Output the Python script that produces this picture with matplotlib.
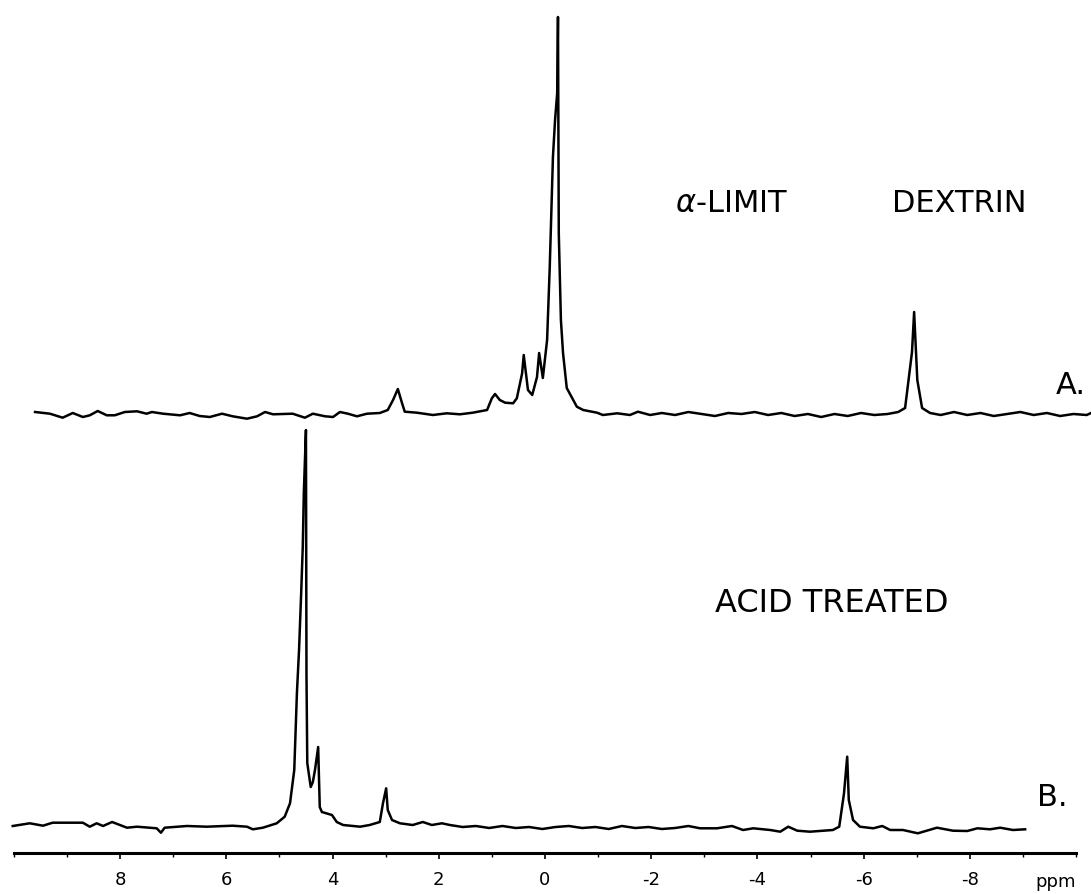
import matplotlib.pyplot as plt
from matplotlib.ticker import FixedLocator

# Spectrum A: alpha-limit dextrin (chemical shift in ppm, intensity in arbitrary units)
a_ppm = [9.60, 9.32, 9.08, 8.89, 8.70, 8.57, 8.42, 8.25, 8.10, 7.91, 7.68, 7.50, 7.40, 7.19,
         6.87, 6.69, 6.50, 6.31, 6.08, 5.88, 5.61, 5.42, 5.27, 5.12, 4.75, 4.52, 4.37, 4.14,
         3.99, 3.86, 3.71, 3.54, 3.35, 3.11, 2.96, 2.86, 2.77, 2.69, 2.64, 2.41, 2.11, 1.85,
         1.60, 1.36, 1.09, 1.00, 0.94, 0.85, 0.75, 0.60, 0.53, 0.43, 0.40, 0.32, 0.24, 0.15,
         0.11, 0.04, -0.04, -0.09, -0.15, -0.19, -0.23, -0.245, -0.26, -0.30, -0.34, -0.41,
         -0.60, -0.72, -0.98, -1.09, -1.36, -1.60, -1.75, -1.98, -2.2, -2.45, -2.7, -2.95,
         -3.2, -3.45, -3.7, -3.95, -4.2, -4.45, -4.7, -4.95, -5.2, -5.45, -5.7, -5.95, -6.2,
         -6.45, -6.65, -6.78, -6.91, -6.95, -7.01, -7.10, -7.25, -7.45, -7.7, -7.95, -8.2,
         -8.45, -8.7, -8.95, -9.2, -9.45, -9.7, -9.95, -10.2, -10.28]
a_int = [0, -1.7, -5.7, -1, -5, -3.3, 1, -3.3, -3.3, 0, 0.7, -1.7, 0, -1.7,
         -3.3, -1, -4, -5, -1.7, -4.3, -6.7, -4.3, 0, -2.3, -1.7, -5.7, -1.7, -4.3,
         -5, 0, -1.7, -4.3, -1.7, -1, 2, 12, 23, 8.7, 0.3, -0.7, -3, -1.3,
         -2.3, -0.7, 2, 13.7, 18, 12, 9.3, 8.7, 13.7, 38.7, 57, 22, 17, 35,
         59, 34, 72, 145, 255, 292, 319, 395, 179, 92, 59, 24,
         5.3, 2, -0.7, -3, -1.3, -3, 0.3, -3, -1, -3, 0, -2,
         -4, -1, -2, 0, -3, -1, -4, -2, -5, -2, -4, -1, -3,
         -2, 0, 4, 60, 100, 32, 4, -1, -3, 0, -3, -1,
         -4, -2, 0, -3, -1, -4, -2, -3, -1]

# Spectrum B: acid treated
b_ppm = [10.02, 9.70, 9.45, 9.27, 8.70, 8.57, 8.44, 8.32, 8.15, 7.87, 7.68, 7.31, 7.23, 7.16,
         6.74, 6.37, 5.88, 5.61, 5.50, 5.31, 5.05, 4.90, 4.80, 4.72, 4.67, 4.63, 4.59, 4.56,
         4.54, 4.50, 4.49, 4.475, 4.41, 4.37, 4.33, 4.27, 4.24, 4.20, 4.01, 3.92, 3.80, 3.48,
         3.30, 3.11, 3.05, 2.99, 2.96, 2.88, 2.73, 2.49, 2.30, 2.13, 1.94, 1.79, 1.55, 1.3,
         1.05, 0.8, 0.55, 0.3, 0.05, -0.2, -0.45, -0.7, -0.95, -1.2, -1.45, -1.7, -1.95,
         -2.2, -2.45, -2.7, -2.92, -3.24, -3.52, -3.73, -3.92, -4.24, -4.43, -4.58, -4.75,
         -4.99, -5.42, -5.54, -5.63, -5.69, -5.72, -5.80, -5.93, -6.18, -6.35, -6.50, -6.74,
         -7.02, -7.38, -7.68, -7.95, -8.14, -8.38, -8.57, -8.81, -9.04]
b_int = [-1, 1.7, -0.7, 2.3, 2.3, -1.7, 1.7, -1, 3, -2.7, -1.7, -3.3, -7.7, -2.7,
         -1, -1.7, -0.7, -1.7, -4.3, -2.7, 1.7, 8.3, 21.7, 55, 132, 175, 232, 278,
         332, 395, 150, 62, 38, 43, 55, 78, 18, 13, 10, 3, 0, -1.7,
         0, 3, 21.7, 36.7, 15, 5, 1.7, 0, 3, 0, 1.7, 0, -2, -1,
         -3, -1, -3, -2, -4, -2, -1, -3, -2, -4, -1, -3, -2,
         -4, -3, -1, -3.3, -3.3, -1, -5, -3.3, -5, -6.7, -1.7, -5.7,
         -6.7, -5, -1.7, 31.7, 68.3, 25, 5, -1.7, -3.3, -1, -5, -5,
         -8.3, -2.7, -5.7, -6, -3.3, -4.3, -2.7, -5, -4.3]

# axis ticks
major_ticks = [8, 6, 4, 2, 0, -2, -4, -6, -8]
minor_ticks = list(range(-10, 11))
tick_labels = ["8", "6", "4", "2", "0", "-2", "-4", "-6", "-8"]

# vertical stacking of the two traces
a_offset = 482
b_offset = 69

fig = plt.figure(figsize=(10.91, 8.94), dpi=100)
ax = fig.add_axes([0, 0, 1, 1])

ax.plot(a_ppm, [v + a_offset for v in a_int], color='black', lw=1.8)
ax.plot(b_ppm, [v + b_offset for v in b_int], color='black', lw=1.8)

ax.set_xlim(10.26, -10.28)
ax.set_ylim(0, 894)

# ppm axis drawn low in the frame
for s in ['top', 'left', 'right']:
    ax.spines[s].set_visible(False)
ax.spines['bottom'].set_position(('data', 41))
ax.spines['bottom'].set_bounds(10.0, -10.0)
ax.spines['bottom'].set_linewidth(2.2)
ax.xaxis.set_major_locator(FixedLocator(major_ticks))
ax.xaxis.set_minor_locator(FixedLocator(minor_ticks))
ax.set_xticklabels(tick_labels)
ax.tick_params(axis='x', which='major', direction='out', length=4, width=1.2, pad=9, labelsize=13)
ax.tick_params(axis='x', which='minor', direction='out', length=3, width=1)
ax.set_yticks([])

ax.text(-9.62, 12, "ppm", fontsize=13, ha='center', va='center')

# labels
ax.text(-3.52, 691, r"$\mathit{\alpha}$-LIMIT", fontsize=22, ha='center', va='center')
ax.text(-7.80, 691, "DEXTRIN", fontsize=22, ha='center', va='center')
ax.text(-9.90, 509, "A.", fontsize=22, ha='center', va='center')
ax.text(-5.40, 291, "ACID TREATED", fontsize=23, ha='center', va='center')
ax.text(-9.55, 96, "B.", fontsize=22, ha='center', va='center')

plt.savefig("out.png", dpi=100)
